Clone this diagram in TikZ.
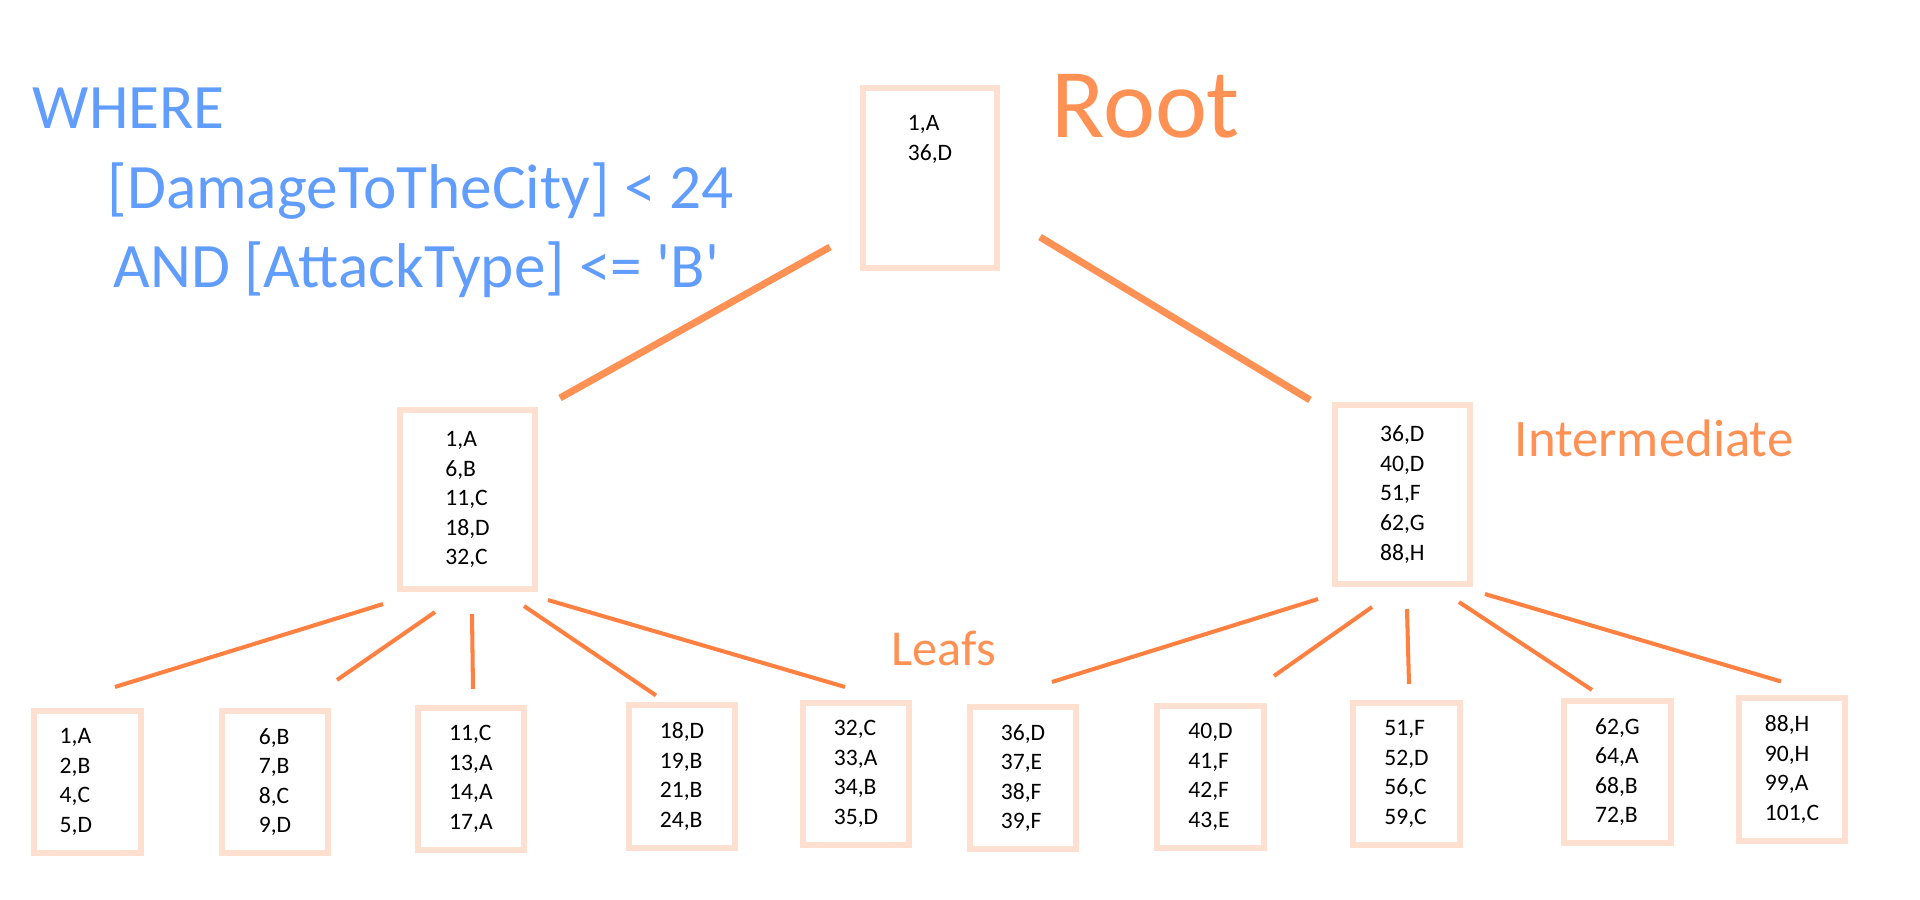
\documentclass[tikz,border=0pt]{standalone}
\usepackage{fontspec}
\setmainfont{Carlito}[Ligatures=TeXOff]
\usepackage{tikz}
\usetikzlibrary{calc}

\definecolor{querryblue}{RGB}{97,157,255}
\definecolor{tagorange}{RGB}{255,145,85}
\definecolor{linkorange}{RGB}{255,128,64}
\definecolor{boxpeach}{RGB}{255,224,208}

\begin{document}
\begin{tikzpicture}[x=0.01cm,y=-0.01cm]
	\tikzstyle{box}=[rectangle, draw=boxpeach, line width=1.7pt, align=left, inner sep=0pt, font=\fontsize{6.7}{8.4}\selectfont]
	\tikzstyle{box inner}=[box, minimum width=1.35cm, minimum height=1.79cm]
	\tikzstyle{box leaf}=[box, minimum width=1.06cm, minimum height=1.42cm]
	\tikzstyle{link top}=[draw=tagorange, line width=2pt]
	\tikzstyle{link low}=[draw=linkorange, line width=1.15pt]
	\tikzstyle{query}=[anchor=base west, inner sep=0pt, text=querryblue, font=\fontsize{18}{22}\selectfont]
	\tikzstyle{tag}=[anchor=base west, inner sep=0pt, text=tagorange]

	\useasboundingbox (0,0) rectangle (1920,900);

	% query text
	\node [query] (where) at (32,128) {WHERE};
	\node [query] (cond1) at (107,208) {[DamageToTheCity] < 24};
	\node [query] (cond2) at (113,287) {AND [AttackType] <= 'B'};

	% root and intermediate level
	\node [box, minimum width=1.34cm, minimum height=1.80cm] (root) at (930,178)
		[label={[anchor=north, yshift=-0.3cm, align=left, inner sep=0pt, font=\fontsize{6.7}{8.4}\selectfont]north:1,A\\36,D}] {};
	\node [box inner] (left) at (467.5,499.5) {1,A\\6,B\\11,C\\18,D\\32,C};
	\node [box inner] (right) at (1402.5,494.5) {36,D\\40,D\\51,F\\62,G\\88,H};

	% leafs
	\node [box leaf] (leaf1) at (87.5,782) {1,A\hspace*{6.8pt}\\2,B\\4,C\\5,D};
	\node [box leaf] (leaf2) at (275,782) {6,B\\7,B\\8,C\\9,D};
	\node [box leaf] (leaf3) at (471,779) {11,C\\13,A\\14,A\\17,A};
	\node [box leaf] (leaf4) at (682,776.5) {18,D\\19,B\\21,B\\24,B};
	\node [box leaf] (leaf5) at (856,774) {32,C\\33,A\\34,B\\35,D};
	\node [box leaf] (leaf6) at (1023,778) {36,D\\37,E\\38,F\\39,F};
	\node [box leaf] (leaf7) at (1210.5,777) {40,D\\41,F\\42,F\\43,E};
	\node [box leaf] (leaf8) at (1406.5,774) {51,F\\52,D\\56,C\\59,C};
	\node [box leaf] (leaf9) at (1617.5,772) {62,G\\64,A\\68,B\\72,B};
	\node [box leaf] (leaf10) at (1792,769.5) {88,H\\90,H\\99,A\\101,C};

	% level names
	\node [tag, font=\fontsize{28}{34}\selectfont] (rootname) at (1051,137) {Root};
	\node [tag, font=\fontsize{15}{18}\selectfont] (intername) at (1514,456) {Intermediate};
	\node [tag, font=\fontsize{14.3}{17}\selectfont] (leafname) at (891,665) {Leafs};

	% connectors
	\draw [link top] ($(root.south)+(-100,-24)$) -- ($(left.north)+(92.5,-9)$);
	\draw [link top] ($(root.south)+(110,-34)$) -- ($(right.north)+(-92.5,-2)$);
	\foreach \up/\kid/\sx/\sy/\ex/\ey in {left/1/-84.5/12/27.5/-21, left/2/-32.5/20/62/-28, left/3/4.5/22/2/-16, left/4/56.5/14/-26/-7, left/5/80.5/8/-11/-13,
		right/6/-84.5/12/29/-22, right/7/-30.5/20/63.5/-27, right/8/4.5/22/2.5/-16, right/9/56.5/15/-25.5/-8, right/10/82.5/7/-11/-14}
		\draw [link low] ($(\up.south)+(\sx,\sy)$) -- ($(leaf\kid.north)+(\ex,\ey)$);
\end{tikzpicture}
\end{document}
